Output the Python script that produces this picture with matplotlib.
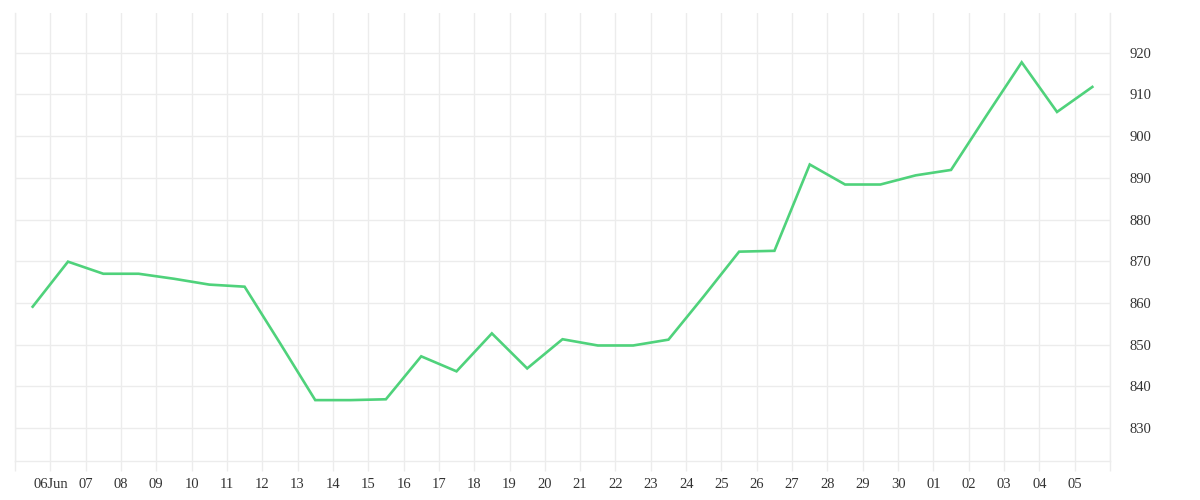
import pandas as pd
import numpy as np
import matplotlib
matplotlib.use("Agg")
import matplotlib.pyplot as plt

# daily values, one per day 05 Jun .. 05 Jul (plotted at midday)
days = pd.date_range("2023-06-05", "2023-07-05", freq="D")
values = [859.1, 869.9, 867.0, 867.0, 865.8, 864.4, 863.9, 850.4, 836.7, 836.7,
          836.9, 847.2, 843.6, 852.7, 844.3, 851.3, 849.8, 849.8, 851.2, 861.6,
          872.3, 872.5, 893.2, 888.4, 888.4, 890.6, 891.9, 904.9, 917.7, 905.8,
          911.8]

# day gridlines 05 Jun .. 06 Jul, edge ticks unlabeled
tick_days = pd.date_range("2023-06-05", "2023-07-06", freq="D")
tick_labels = ["", "06Jun", "07", "08", "09", "10", "11", "12", "13", "14", "15",
               "16", "17", "18", "19", "20", "21", "22", "23", "24", "25", "26",
               "27", "28", "29", "30", "01", "02", "03", "04", "05", ""]
y_ticks = [830, 840, 850, 860, 870, 880, 890, 900, 910, 920]

grid_col = "#ececec"
line_col = "#4fd27b"
text_col = "#333333"

plt.rcParams["font.family"] = ["Liberation Serif", "DejaVu Serif"]

fig = plt.figure(figsize=(12, 5), dpi=100)
ax = fig.add_axes([0.0125, 0.078, 0.9125, 0.8966])

x = days + pd.Timedelta(hours=12)
ax.plot(x, values, color=line_col, linewidth=1.9, solid_joinstyle="miter")

ax.set_xlim(tick_days[0], tick_days[-1])
ax.set_ylim(822.1, 929.6)

ax.set_xticks(tick_days)
ax.set_xticklabels(tick_labels)
ax.set_yticks(y_ticks)
ax.yaxis.tick_right()

ax.grid(True, color=grid_col, linewidth=1)
ax.set_axisbelow(True)

for s in ["top"]:
    ax.spines[s].set_visible(False)
for s in ["left", "right", "bottom"]:
    ax.spines[s].set_color(grid_col)
    ax.spines[s].set_linewidth(1)

ax.tick_params(axis="x", length=7, width=1, color=grid_col, colors=text_col,
               labelsize=10.5, pad=5, direction="out")
ax.tick_params(axis="x", color=grid_col)
ax.tick_params(axis="y", length=0, labelsize=10.5, labelcolor=text_col, pad=14)

fig.savefig("out.png", dpi=100, facecolor="white")
